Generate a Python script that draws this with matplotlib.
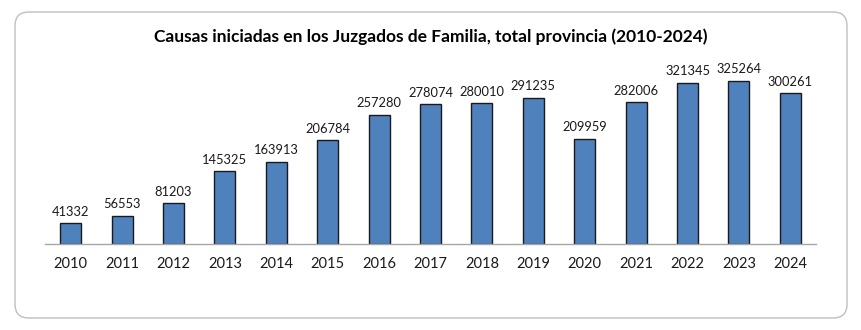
import matplotlib
matplotlib.use('Agg')
import matplotlib.pyplot as plt
from matplotlib.patches import FancyBboxPatch

years = ['2010', '2011', '2012', '2013', '2014', '2015', '2016', '2017',
         '2018', '2019', '2020', '2021', '2022', '2023', '2024']
causas = [41332, 56553, 81203, 145325, 163913, 206784, 257280, 278074,
          280010, 291235, 209959, 282006, 321345, 325264, 300261]

W, H = 862, 330
plt.rcParams['font.family'] = ['Lato', 'DejaVu Sans']

fig = plt.figure(figsize=(W / 100, H / 100), dpi=100)

# rounded frame around the chart
frame = FancyBboxPatch((15 / W, 1 - 318 / H), (847 - 15) / W, (318 - 12) / H,
                       boxstyle='round,pad=0,rounding_size=0.016',
                       transform=fig.transFigure, facecolor='none',
                       edgecolor='#bfbfbf', linewidth=1.0, mutation_aspect=W / H,
                       zorder=-1)
fig.patches.append(frame)

# axes in pixel positions: left 45, right 816, top 60, bottom 244
ax = fig.add_axes([45 / W, 1 - 244 / H, (816 - 45) / W, (244 - 60) / H])
ax.set_facecolor('none')
x = range(len(years))
bars = ax.bar(x, causas, width=0.41, color='#4f81bd', edgecolor='#1a1a1a', linewidth=1.0)
ax.set_xlim(-0.5, len(years) - 0.5)
ax.set_ylim(0, 366500)

for xi, v in zip(x, causas):
    ax.text(xi, v + 11000, str(v), ha='center', va='bottom', fontsize=9.3, color='#1a1a1a')

ax.set_xticks(list(x))
ax.set_xticklabels(years, fontsize=10.5, color='#1a1a1a')
ax.tick_params(axis='x', length=0, pad=9)
ax.set_yticks([])
for s in ['top', 'right', 'left']:
    ax.spines[s].set_visible(False)
ax.spines['bottom'].set_color('#a6a6a6')
ax.spines['bottom'].set_linewidth(1.0)

fig.text(431 / W, 1 - 37 / H, 'Causas iniciadas en los Juzgados de Familia, total provincia (2010-2024)',
         ha='center', va='center', fontsize=12.5, fontweight='bold', color='black')

fig.savefig('out.png', dpi=100)
